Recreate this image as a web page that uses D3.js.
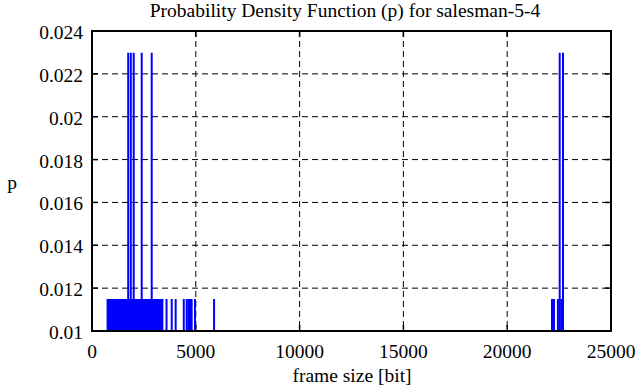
<!DOCTYPE html>
<html><head><meta charset="utf-8">
<script src="https://cdn.jsdelivr.net/npm/d3@7"></script>
<style>body{margin:0;background:#fff}svg{display:block}</style>
</head><body><svg id="c" width="636" height="387"></svg>
<script>
const title = "Probability Density Function (p) for salesman-5-4";
const xLabel = "frame size [bit]";
const yLabel = "p";
const xTicks = [0, 5000, 10000, 15000, 20000, 25000];
const yTicks = [0.01, 0.012, 0.014, 0.016, 0.018, 0.02, 0.022, 0.024];
// frame sizes occurring once (p = 1/87)
const onceSizes = [750, 800, 850, 890, 940, 990, 1030, 1080, 1120, 1150, 1170, 1210, 1260, 1300, 1350, 1390, 1440, 1480, 1530, 1570, 1620, 1660, 1700, 1790, 1830, 1920, 1960, 2050, 2090, 2140, 2180, 2230, 2280, 2330, 2360, 2440, 2480, 2530, 2570, 2620, 2660, 2710, 2750, 2800, 2830, 2920, 2960, 3010, 3050, 3100, 3140, 3190, 3230, 3280, 3320, 3370, 3390, 3590, 3840, 4030, 4420, 4560, 4640, 4720, 4800, 4960, 5880, 22158, 22254, 22442, 22606];
const onceP = 1 / 87;
// frame sizes occurring twice (p = 2/87)
const twiceSizes = [1744, 1869, 2009, 2394, 2876, 22529, 22688];
const twiceP = 2 / 87;

const svg = d3.select("#c");
const FONT = "'Liberation Serif', 'Times New Roman', Times, serif";
const L = 92, R = 611, T = 31, B = 331;
const x = d3.scaleLinear().domain([0, 25000]).range([L, R]);
const y = d3.scaleLinear().domain([0.01, 0.024]).range([B, T]);

// grid
const g = svg.append("g").attr("stroke", "#000").attr("stroke-width", 1).attr("stroke-dasharray", "6,4");
xTicks.slice(1, -1).forEach(v => g.append("line").attr("x1", x(v)).attr("x2", x(v)).attr("y1", T).attr("y2", B));
yTicks.slice(1, -1).forEach(v => g.append("line").attr("x1", L).attr("x2", R).attr("y1", y(v)).attr("y2", y(v)));

// impulses
const data = onceSizes.map(s => ({s, p: onceP})).concat(twiceSizes.map(s => ({s, p: twiceP})));
svg.append("g").selectAll("line").data(data).join("line")
  .attr("x1", d => x(d.s)).attr("x2", d => x(d.s))
  .attr("y1", y(0.01)).attr("y2", d => y(d.p))
  .attr("stroke", "#0000ff").attr("stroke-width", 2);

// ticks (inside, mirrored)
const tk = svg.append("g").attr("stroke", "#000").attr("stroke-width", 1.5);
xTicks.forEach(v => {
  tk.append("line").attr("x1", x(v)).attr("x2", x(v)).attr("y1", B).attr("y2", B - 6);
  tk.append("line").attr("x1", x(v)).attr("x2", x(v)).attr("y1", T).attr("y2", T + 6);
});
yTicks.forEach(v => {
  tk.append("line").attr("x1", L).attr("x2", L + 6).attr("y1", y(v)).attr("y2", y(v));
  tk.append("line").attr("x1", R).attr("x2", R - 6).attr("y1", y(v)).attr("y2", y(v));
});
// frame
svg.append("rect").attr("x", L).attr("y", T).attr("width", R - L).attr("height", B - T)
  .attr("fill", "none").attr("stroke", "#000").attr("stroke-width", 2);

const fs = 19.5;
const txt = svg.append("g").attr("font-family", FONT).attr("font-size", fs).attr("fill", "#000");
txt.append("g").selectAll("text").data(xTicks).join("text")
  .attr("x", d => x(d)).attr("y", 358).attr("text-anchor", "middle").text(d => d);
txt.append("g").selectAll("text").data(yTicks).join("text")
  .attr("x", 83).attr("y", d => y(d) + 8).attr("text-anchor", "end").text(d => +d.toFixed(3));
txt.append("text").attr("x", 345).attr("y", 17).attr("text-anchor", "middle").text(title);
txt.append("text").attr("x", 352).attr("y", 382).attr("text-anchor", "middle").text(xLabel);
txt.append("text").attr("x", 12).attr("y", 189).attr("text-anchor", "middle").text(yLabel);
</script></body></html>
